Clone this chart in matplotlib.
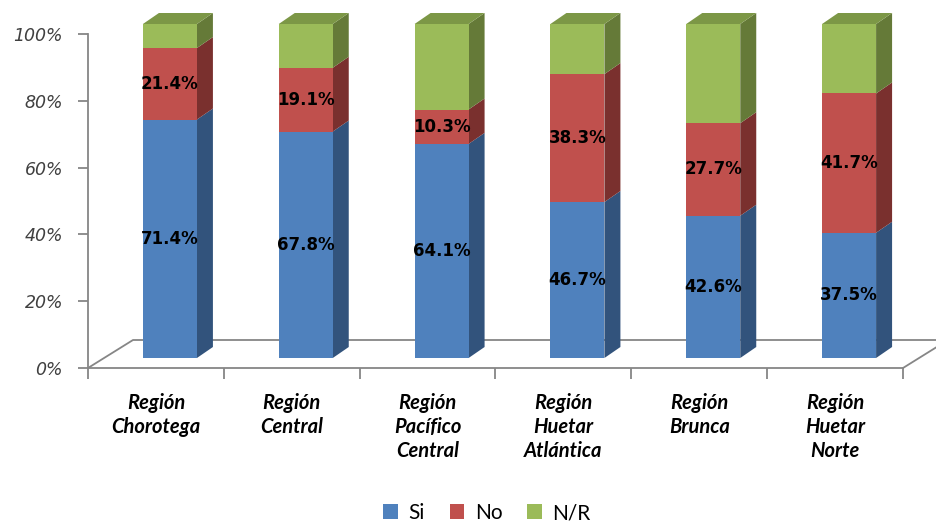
import numpy as np
import matplotlib
matplotlib.use("Agg")
from matplotlib import pyplot as plt
from matplotlib.patches import Polygon, Patch

# data
regiones = ['Región\nChorotega', 'Región\nCentral', 'Región\nPacífico\nCentral',
            'Región\nHuetar\nAtlántica', 'Región\nBrunca', 'Región\nHuetar\nNorte']
si = [71.4, 67.8, 64.1, 46.7, 42.6, 37.5]
no = [21.4, 19.1, 10.3, 38.3, 27.7, 41.7]
nr = [7.2, 13.1, 25.6, 15.0, 29.7, 20.8]
series_names = ['Si', 'No', 'N/R']

front = ['#4F81BD', '#C0504D', '#9BBB59']
side = ['#32537C', '#7A302E', '#657A38']
top = ['#3F6896', '#99403D', '#7C9746']

W, H = 936, 525
fig = plt.figure(figsize=(W / 100, H / 100), dpi=100)
ax_l, ax_r, ax_b, ax_t = 88, 903, 157, 491
ax = fig.add_axes([ax_l / W, ax_b / H, (ax_r - ax_l) / W, (ax_t - ax_b) / H])
n = len(regiones)
ax.set_xlim(-0.5, n - 0.5)
ax.set_ylim(0, 100)

# pixel -> data
sx = (ax_r - ax_l) / n
sy = (ax_t - ax_b) / 100.0
def px(dx, dy):
    return dx / sx, dy / sy

grey = '#868686'
# floor (3d base)
fdx, fdy = px(45, 28)
ax.plot([-0.5, -0.5 + fdx, n - 0.5 + fdx, n - 0.5], [0, fdy, fdy, 0],
        color=grey, lw=1.3, clip_on=False, zorder=1)

# bars
x = np.arange(n)
ox, oy = px(14, 10)
ddx, ddy = px(16, 11)
w = 54 / sx
vals = [np.array(si), np.array(no), np.array(nr)]
bottom = np.zeros(n)
for k, v in enumerate(vals):
    ax.bar(x + ox, v, w, bottom=bottom + oy, color=front[k], clip_on=False, zorder=3)
    for i in range(n):
        xr = x[i] + ox + w / 2
        b = bottom[i] + oy
        t = b + v[i]
        ax.add_patch(Polygon([(xr, b), (xr, t), (xr + ddx, t + ddy), (xr + ddx, b + ddy)],
                             closed=True, fc=side[k], ec='none', clip_on=False, zorder=2))
        if k == len(vals) - 1:
            xl = xr - w
            ax.add_patch(Polygon([(xl, t), (xr, t), (xr + ddx, t + ddy), (xl + ddx, t + ddy)],
                                 closed=True, fc=top[k], ec='none', clip_on=False, zorder=2))
        if k < 2:
            ax.text(x[i] + ox, b + v[i] / 2, '%.1f%%' % v[i], ha='center', va='center',
                    fontsize=12, fontweight='bold', color='black', zorder=5)
    bottom = bottom + v

# axes styling
for s in ['top', 'right']:
    ax.spines[s].set_visible(False)
ax.spines['left'].set_color(grey)
ax.spines['bottom'].set_color(grey)
ax.spines['left'].set_linewidth(1.3)
ax.spines['bottom'].set_linewidth(1.3)
ax.set_yticks(np.arange(0, 101, 20))
ax.set_yticklabels(['%d%%' % t for t in range(0, 101, 20)], fontsize=12.5,
                   fontstyle='italic', color='#404040')
ax.tick_params(axis='y', direction='out', length=7, color=grey, width=1.3, pad=11)
ax.set_xticks(np.arange(-0.5, n, 1.0), minor=True)
ax.tick_params(axis='x', which='minor', direction='out', length=8, color=grey, width=1.3)
ax.set_xticks(x)
ax.set_xticklabels(regiones, fontsize=14.5, fontweight='bold', fontstyle='italic',
                   family='Lato', linespacing=1.25, va='top')
ax.tick_params(axis='x', which='major', length=0, pad=18)
ax.patch.set_visible(False)

handles = [Patch(facecolor=c) for c in front]
fig.legend(handles, series_names, loc='center', bbox_to_anchor=(487 / W, 1 - 513 / H),
           ncol=3, frameon=False, prop={'family': 'Lato', 'size': 15},
           handlelength=0.7, handleheight=0.7, columnspacing=1.2, handletextpad=0.5)

plt.savefig('out.png', dpi=100)
